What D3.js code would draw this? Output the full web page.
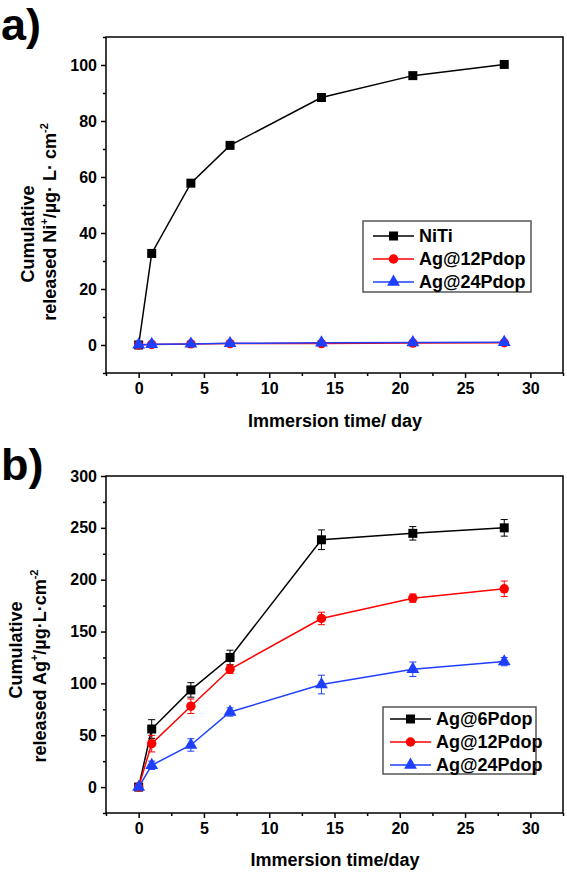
<!DOCTYPE html>
<html><head><meta charset="utf-8">
<script src="https://cdn.jsdelivr.net/npm/d3@7"></script>
<style>body{margin:0;background:#fff}svg{display:block}text{font-family:"Liberation Sans",Arial,sans-serif;font-weight:bold}</style>
</head><body><svg id="c" width="567" height="872"></svg>
<script>
const days = [0, 1, 4, 7, 14, 21, 28];
// Panel a: Ni release
const niNiTi = [0, 32.7, 57.8, 71.3, 88.4, 96.2, 100.2];
const niAg12 = [0, 0.2, 0.4, 0.5, 0.5, 0.7, 0.8];
const niAg24 = [0.1, 0.3, 0.4, 0.6, 0.8, 0.9, 1.0];
// Panel b: Ag release (mean, error)
const ag6 = [0, 56, 93.7, 125, 238.5, 244.7, 250];
const ag6Err = [2, 9, 7, 7, 9.5, 6.5, 8];
const ag12 = [0, 41.9, 78, 113.6, 162.6, 182.2, 191.2];
const ag12Err = [2, 8, 7, 4, 6, 4, 7.5];
const ag24 = [0, 21, 40.6, 72.4, 98.9, 113.6, 121];
const ag24Err = [2, 4, 6, 4, 9, 7, 4];
const xTicks = [0, 5, 10, 15, 20, 25, 30];
const yTicksA = [0, 20, 40, 60, 80, 100];
const yTicksB = [0, 50, 100, 150, 200, 250, 300];

const svg = d3.select("#c");
const BLACK = "#000", RED = "#ff0000", BLUE = "#1f3fff";

function symbolFor(kind){
  if(kind==="square") return d3.symbol().type(d3.symbolSquare).size(81)();
  if(kind==="circle") return d3.symbol().type(d3.symbolCircle).size(70)();
  return d3.symbol().type(d3.symbolTriangle).size(72)();
}

function panel(o){
  const g = svg.append("g");
  const x = d3.scaleLinear().domain([-2.5, 32.5]).range([106, 563]);
  const y = d3.scaleLinear().domain(o.yDomain).range([o.bottom, o.top]);
  g.append("rect").attr("x",106).attr("y",o.top).attr("width",457).attr("height",o.bottom-o.top)
    .attr("fill","none").attr("stroke","#000").attr("stroke-width",1.5);
  const xa = g.append("g").attr("transform",`translate(0,${o.bottom})`)
    .call(d3.axisBottom(x).tickValues(xTicks).tickSize(5).tickPadding(5).tickFormat(d3.format("d")));
  const xm = g.append("g").attr("transform",`translate(0,${o.bottom})`)
    .call(d3.axisBottom(x).tickValues(d3.range(-2.5, 33, 2.5).filter(v=>v%5!==0)).tickSize(3).tickFormat(""));
  const ya = g.append("g").attr("transform",`translate(106,0)`)
    .call(d3.axisLeft(y).tickValues(o.yTicks).tickSize(5).tickPadding(4).tickFormat(d3.format("d")));
  const ym = g.append("g").attr("transform",`translate(106,0)`)
    .call(d3.axisLeft(y).tickValues(o.yMinor).tickSize(3).tickFormat(""));
  [xa,xm,ya,ym].forEach(a=>{
    a.select(".domain").remove();
    a.selectAll("line").attr("stroke","#000").attr("stroke-width",1.5);
    a.selectAll("text").attr("font-size",16).attr("font-family","Liberation Sans, Arial, sans-serif").attr("font-weight","bold").attr("fill","#000");
  });
  xa.selectAll("text").attr("dy","0.71em");
  const line = d3.line().x((d,i)=>x(days[i])).y(d=>y(d));
  o.series.forEach(s=>{
    if(s.err){
      const eg = g.append("g").attr("stroke",s.color).attr("stroke-width",1);
      s.values.forEach((v,i)=>{
        const cx = x(days[i]), y1 = y(v - s.err[i]), y2 = y(v + s.err[i]);
        eg.append("line").attr("x1",cx).attr("x2",cx).attr("y1",y1).attr("y2",y2);
        eg.append("line").attr("x1",cx-3.5).attr("x2",cx+3.5).attr("y1",y1).attr("y2",y1);
        eg.append("line").attr("x1",cx-3.5).attr("x2",cx+3.5).attr("y1",y2).attr("y2",y2);
      });
    }
    g.append("path").attr("d",line(s.values)).attr("fill","none").attr("stroke",s.color).attr("stroke-width",1.5);
    g.selectAll(null).data(s.values).enter().append("path")
      .attr("d",symbolFor(s.symbol)).attr("fill",s.color)
      .attr("transform",(d,i)=>`translate(${x(days[i])},${y(d)})`);
  });
  const L = o.legend;
  g.append("rect").attr("x",L.x).attr("y",L.y).attr("width",L.w).attr("height",L.h)
    .attr("fill","#fff").attr("stroke","#555").attr("stroke-width",1.5);
  o.series.forEach((s,i)=>{
    const ly = L.y + L.first + i*L.step;
    g.append("line").attr("x1",L.x+L.lx).attr("x2",L.x+L.lx+41).attr("y1",ly).attr("y2",ly)
      .attr("stroke",s.color).attr("stroke-width",1.5);
    g.append("path").attr("d",symbolFor(s.symbol)).attr("fill",s.color)
      .attr("transform",`translate(${L.x+L.lx+20.5},${ly})`);
    g.append("text").attr("x",L.x+L.lx+46).attr("y",ly).attr("dy","0.36em")
      .attr("font-size",18).text(s.name);
  });
  g.append("text").attr("x",335).attr("y",o.xTitleY).attr("text-anchor","middle").attr("font-size",18).text(o.xTitle);
  g.append("text").attr("transform",`translate(${o.yt1x},${o.yt1c}) rotate(-90)`)
    .attr("text-anchor","middle").attr("font-size",18).text("Cumulative");
  const t2 = g.append("text").attr("transform",`translate(${o.yt2x},${o.yt2c}) rotate(-90)`)
    .attr("text-anchor","middle").attr("font-size",18);
  t2.append("tspan").text("released " + o.ion);
  t2.append("tspan").attr("font-size",11).attr("dy",-8).text("+");
  t2.append("tspan").attr("dy",8).text(o.unit);
  t2.append("tspan").attr("font-size",11).attr("dy",-8).text("-2");
  g.append("text").attr("x",1).attr("y",o.labelY).attr("font-size",45).text(o.label);
}

panel({
  top:37, bottom:373, yDomain:[-10,110], yTicks:yTicksA, yMinor:d3.range(-10,111,20),
  series:[
    {name:"NiTi", values:niNiTi, color:BLACK, symbol:"square"},
    {name:"Ag@12Pdop", values:niAg12, color:RED, symbol:"circle"},
    {name:"Ag@24Pdop", values:niAg24, color:BLUE, symbol:"triangle"}
  ],
  legend:{x:363, y:221, w:168, h:71, first:15, step:23, lx:10},
  xTitle:"Immersion time/ day", xTitleY:427,
  yt1x:34, yt1c:234, yt2x:56, yt2c:222, ion:"Ni", unit:"/µg· L· cm", label:"a)", labelY:40
});
panel({
  top:476, bottom:813, yDomain:[-25,300], yTicks:yTicksB, yMinor:d3.range(-25,300,50),
  series:[
    {name:"Ag@6Pdop", values:ag6, err:ag6Err, color:BLACK, symbol:"square"},
    {name:"Ag@12Pdop", values:ag12, err:ag12Err, color:RED, symbol:"circle"},
    {name:"Ag@24Pdop", values:ag24, err:ag24Err, color:BLUE, symbol:"triangle"}
  ],
  legend:{x:383, y:707, w:153, h:67, first:12, step:23, lx:7},
  xTitle:"Immersion time/day", xTitleY:866,
  yt1x:22, yt1c:650, yt2x:46, yt2c:666, ion:"Ag", unit:"/µg·L·cm", label:"b)", labelY:480
});
</script></body></html>
